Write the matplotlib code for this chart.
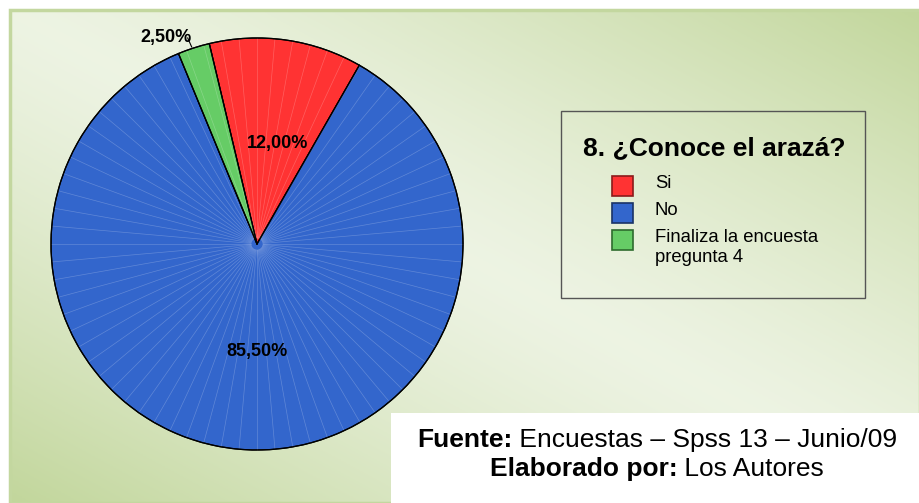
import numpy as np
import matplotlib
matplotlib.use("Agg")
import matplotlib.pyplot as plt
from matplotlib.patches import Rectangle

plt.rcParams['font.family'] = ['Liberation Sans', 'DejaVu Sans']

# ---- data ----
categories = ["Si", "No", "Finaliza la encuesta\npregunta 4"]
values = [12.00, 85.50, 2.50]
colors = ["#ff3333", "#3366cc", "#66cc66"]
edge_colors = ["#8b1a1a", "#1a3366", "#2e6b2e"]
title = "8. ¿Conoce el arazá?"
footer_bold = ["Fuente:", "Elaborado por:"]
footer_regular = [" Encuestas – Spss 13 – Junio/09", " Los Autores"]

W, H = 920, 503
fig = plt.figure(figsize=(W / 100, H / 100), dpi=100, facecolor="white")
ax = fig.add_axes([0, 0, 1, 1])
ax.set_xlim(0, W)
ax.set_ylim(0, H)
ax.axis("off")

# ---- background gradient panel ----
px0, py0, px1, py1 = 10, 0, W, H - 10
gx = np.linspace(0, 1, 300)
gy = np.linspace(0, 1, 200)
X, Y = np.meshgrid(gx, gy)          # Y=0 at top
u = np.abs(X - Y)
u = np.clip(u, 0, 1) ** 1.3
light = np.array([0.93, 0.955, 0.89])
green = np.array([0.76, 0.84, 0.61])
img = light[None, None, :] * (1 - u[..., None]) + green[None, None, :] * u[..., None]
ax.imshow(img, extent=[px0, px1, py0, py1], origin="upper", aspect="auto", zorder=0)
ax.add_patch(Rectangle((px0, py0), px1 - px0, py1 - py0, fill=False,
                       edgecolor="#c3d79f", lw=2.5, zorder=1))

# ---- pie ----
cx, cy, R = 257, H - 244, 206
start = 103.4
wedges, _ = ax.pie(values, colors=colors, startangle=start, counterclock=False,
                   center=(cx, cy), radius=R, frame=True,
                   wedgeprops=dict(edgecolor="black", linewidth=0.9))
for w in wedges:
    w.set_zorder(2)

# subtle radial sheen lines
for ang in np.arange(0, 360, 5.0):
    a = np.deg2rad(ang)
    ax.plot([cx + 6 * np.cos(a), cx + R * np.cos(a)],
            [cy + 6 * np.sin(a), cy + R * np.sin(a)],
            color="white", lw=0.5, alpha=0.22, zorder=3)
ax.add_patch(plt.Circle((cx, cy), R, fill=False, edgecolor="black", lw=0.9, zorder=4))
for w in wedges:
    ax.plot([cx, cx + R * np.cos(np.deg2rad(w.theta1))],
            [cy, cy + R * np.sin(np.deg2rad(w.theta1))], color="black", lw=0.9, zorder=4)

ax.set_xlim(0, W)
ax.set_ylim(0, H)
ax.set_aspect("auto")
ax.axis("off")

def fmt(v):
    return f"{v:.2f}%".replace(".", ",")

# labels inside for big slices, outside for the small one
label_r = [0.50, 0.52, None]
label_dx = [6, 7, 0]
for w, v, lr, dx in zip(wedges, values, label_r, label_dx):
    mid = np.deg2rad((w.theta1 + w.theta2) / 2)
    if lr is not None:
        ax.text(cx + lr * R * np.cos(mid) + dx, cy + lr * R * np.sin(mid) - 1, fmt(v),
                ha="center", va="center", fontsize=13, fontweight="bold", zorder=5)
    else:
        ex, ey = cx + R * np.cos(mid), cy + R * np.sin(mid)
        tx, ty = cx + 1.10 * R * np.cos(mid + 0.11), cy + 1.10 * R * np.sin(mid + 0.11)
        ax.plot([ex - 2, ex - 6], [ey + 1, ey + 10], color="black", lw=0.8, zorder=5)
        ax.text(tx + 2, ty, fmt(v), ha="center", va="center", fontsize=13,
                fontweight="bold", zorder=5)

# ---- legend box ----
lx0, ly0, lx1, ly1 = 561, H - 298, 865, H - 111
ax.add_patch(Rectangle((lx0, ly0), lx1 - lx0, ly1 - ly0, fill=False,
                       edgecolor="#555555", lw=1.0, zorder=5))
ax.text((lx0 + lx1) / 2 + 1, H - 148, title, ha="center", va="center",
        fontsize=19, fontweight="bold", zorder=6)
item_y = [H - 186, H - 213, H - 240]
for cat, c, ec, yy in zip(categories, colors, edge_colors, item_y):
    ax.add_patch(Rectangle((612, yy - 10), 21, 20, facecolor=c, edgecolor=ec,
                           lw=1.2, zorder=6))
    ax.text(655, yy + 11, cat, ha="left", va="top", fontsize=13.3,
            linespacing=1.2, zorder=6)

# ---- footer ----
ax.add_patch(Rectangle((391, 0), W - 391, H - 413, facecolor="white",
                       edgecolor="none", zorder=7))
fig.canvas.draw()
renderer = fig.canvas.get_renderer()
center_x = 657
for b, r, yy in zip(footer_bold, footer_regular, [H - 440, H - 469]):
    tb = ax.text(0, yy, b, fontsize=19, fontweight="bold", va="center", ha="left", zorder=8)
    tr = ax.text(0, yy, r, fontsize=19, va="center", ha="left", zorder=8)
    wb = tb.get_window_extent(renderer).width
    wr = tr.get_window_extent(renderer).width
    x0 = center_x - (wb + wr) / 2
    tb.set_x(x0)
    tr.set_x(x0 + wb)

fig.savefig("out.png", dpi=100, facecolor="white")
